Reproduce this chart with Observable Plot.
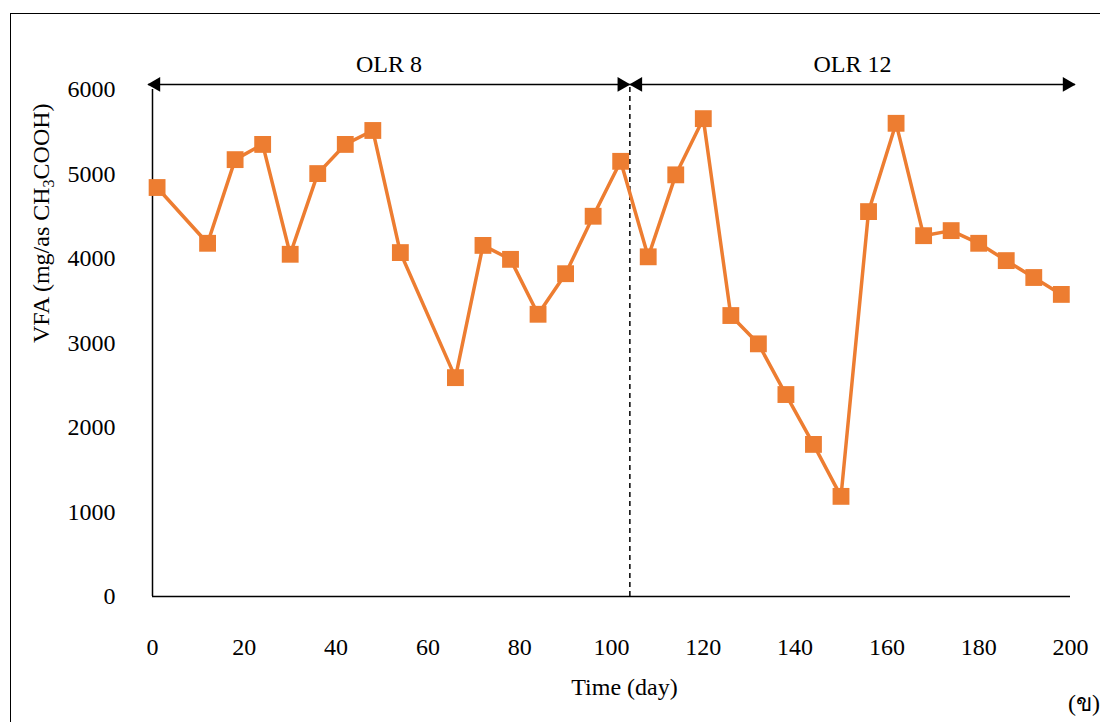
<!DOCTYPE html>
<html><head><meta charset="utf-8">
<script src="https://cdn.jsdelivr.net/npm/d3@7"></script>
<script src="https://cdn.jsdelivr.net/npm/@observablehq/plot@0.6"></script>
<style>
html,body{margin:0;padding:0;background:#fff;}
#wrap{position:relative;width:1100px;height:722px;overflow:hidden;font-family:"Liberation Serif","Times New Roman",serif;color:#000;}
#frame{position:absolute;left:10px;top:13px;width:2000px;height:2000px;border-top:1.5px solid #000;border-left:1.5px solid #000;}
#chart{position:absolute;left:0;top:0;}
#chart svg, #chart svg text{font-family:"Liberation Serif","Times New Roman",serif !important;}
#tag{position:absolute;right:0px;top:683px;font-size:24px;}
</style></head><body>
<div id="wrap"><div id="frame"></div><div id="chart"></div><div id="tag">(ข)</div></div>
<script>
// Data
const days = [1,12,18,24,30,36,42,48,54,66,72,78,84,90,96,102,108,114,120,126,132,138,144,150,156,162,168,174,180,186,192,198];
const vfa = [4840,4180,5170,5350,4050,5005,5350,5515,4070,2590,4155,3990,3340,3820,4500,5150,4020,4990,5655,3325,2990,2390,1800,1185,4555,5600,4270,4330,4180,3975,3775,3575];
const xTicks = [0,20,40,60,80,100,120,140,160,180,200];
const yTicks = [0,1000,2000,3000,4000,5000,6000];
const periodLabels = ["OLR 8","OLR 12"];
const periodStart = [-1,104];
const periodEnd = [104,201];
const changeDay = 104;

const data = days.map((d,i)=>({day:d, vfa:vfa[i]}));
const periods = periodLabels.map((l,i)=>({label:l, start:periodStart[i], end:periodEnd[i], mid:(periodStart[i]+periodEnd[i])/2}));

const ARROW_Y = 6060;
const ORANGE = "#ED7D31";
const FONT = "Liberation Serif";
const yLabel = "VFA (mg/as CH3COOH)";

const chart = Plot.plot({
  width:1100, height:722,
  marginLeft:152, marginRight:30, marginTop:89, marginBottom:126,
  style:{fontFamily:FONT, fontSize:"24px", color:"#000", background:"transparent"},
  x:{domain:[0,200]},
  y:{domain:[0,6000]},
  marks:[
    Plot.axisY({ticks:yTicks, tickSize:0, tickPadding:37, tickFormat:"d", label:null, fontSize:24, fontFamily:FONT}),
    Plot.axisX({ticks:xTicks, tickSize:0, tickPadding:41, tickFormat:"d", label:null, fontSize:24, fontFamily:FONT}),
    Plot.ruleX([0], {y1:0, y2:6000, stroke:"#000", strokeWidth:1.5}),
    Plot.ruleY([0], {x1:0, x2:200, stroke:"#000", strokeWidth:1.5}),
    Plot.ruleX([changeDay], {y1:0, y2:ARROW_Y, stroke:"#000", strokeWidth:1.5, strokeDasharray:"5,4"}),
    Plot.link(periods, {x1:"start", x2:"end", y1:ARROW_Y, y2:ARROW_Y, stroke:"#000", strokeWidth:1.5}),
    Plot.dot(periods, {x:"start", y:ARROW_Y, symbol:"triangle", rotate:-90, r:5.5, fill:"#000", dx:8}),
    Plot.dot(periods, {x:"end", y:ARROW_Y, symbol:"triangle", rotate:90, r:5.5, fill:"#000", dx:-8}),
    Plot.text(periods, {x:"mid", y:ARROW_Y, text:"label", dy:-20, fontSize:24, fontFamily:FONT}),
    Plot.line(data, {x:"day", y:"vfa", stroke:ORANGE, strokeWidth:3.5}),
    Plot.dot(data, {x:"day", y:"vfa", symbol:"square", r:9.5, fill:ORANGE}),
    Plot.text([yLabel], {frameAnchor:"left", dx:-111, rotate:-90, text:d=>d, fontSize:24, lineAnchor:"middle", fontFamily:FONT}),
    Plot.text(["Time (day)"], {frameAnchor:"bottom", dy:91, dx:13, text:d=>d, fontSize:24, lineAnchor:"middle", fontFamily:FONT})
  ]
});
document.getElementById("chart").appendChild(chart);

// subscript for CH3
d3.select(chart).selectAll("text").filter(function(){return this.textContent===yLabel;}).each(function(){
  const t = d3.select(this);
  t.text(null);
  t.append("tspan").text("VFA (mg/as CH");
  t.append("tspan").attr("dy","0.3em").attr("font-size","16px").text("3");
  t.append("tspan").attr("dy","-0.2em").text("COOH)");
});
</script>
</body></html>
